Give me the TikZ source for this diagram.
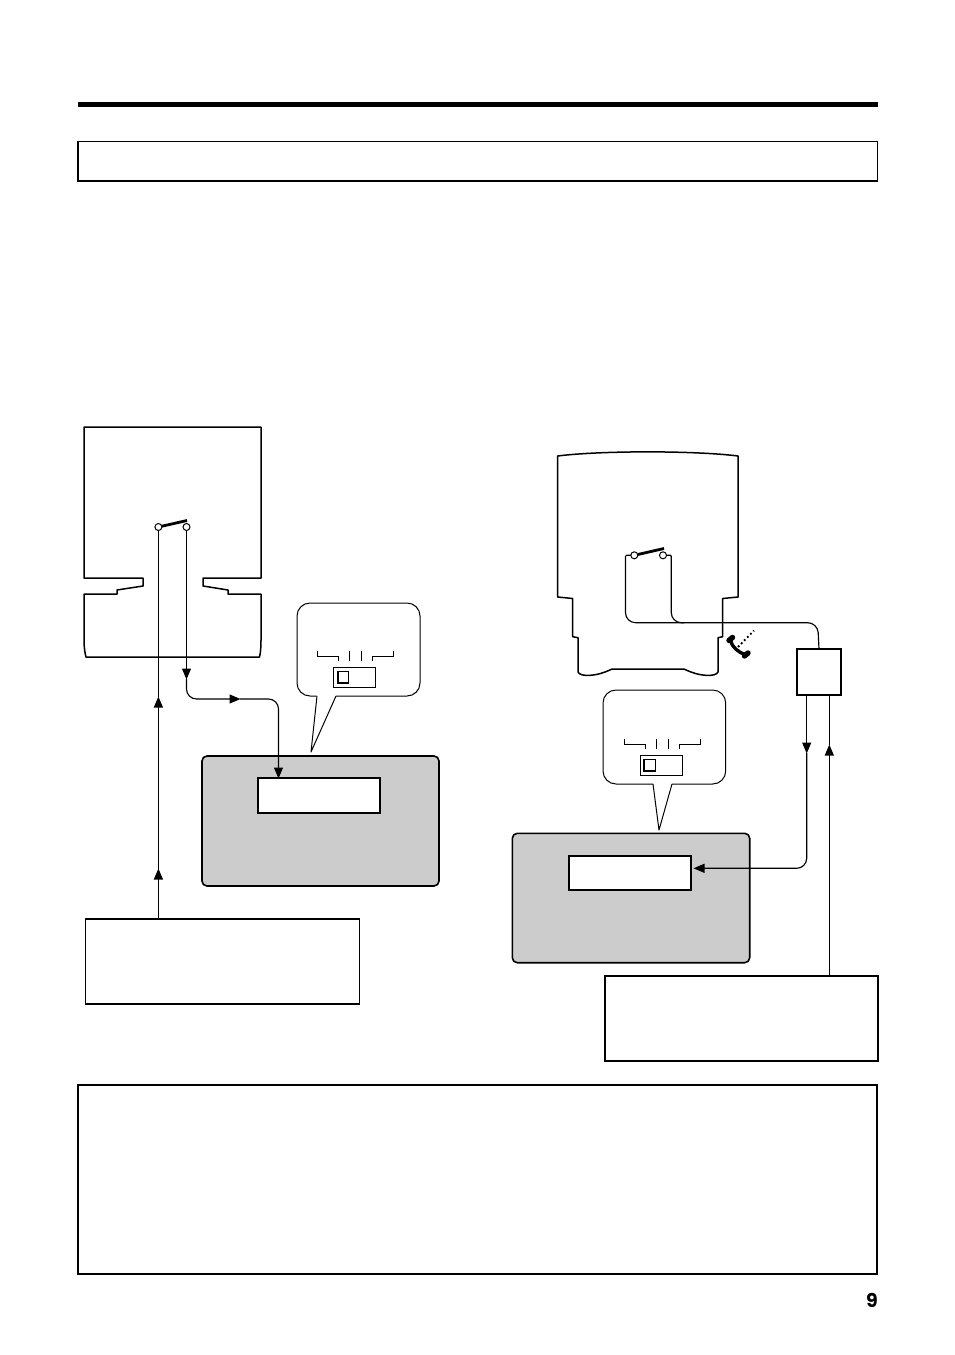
\documentclass[tikz,border=0pt]{standalone}
\usepackage{fontspec}
\setmainfont{Poppins}
\usetikzlibrary{arrows.meta}
\tikzset{
	outline/.style={line width=1.5pt,line join=round},
	wire/.style={line width=1.15pt},
	tipwire/.style={wire,-{Triangle[length=11pt,width=9pt]},shorten >=-0.5pt},
	contact/.style={circle,draw,fill=white,line width=1pt,minimum size=7pt,inner sep=0pt,outer sep=0pt},
	whitebox/.style={draw,fill=white,line width=2pt,inner sep=0pt,outer sep=0pt,anchor=north west},
	plainbox/.style={draw,fill=white,line width=1.5pt,inner sep=0pt,outer sep=0pt,anchor=north west},
	graybox/.style={draw,fill=black!20,line width=1.6pt,rounded corners=5pt,inner sep=0pt,outer sep=0pt,anchor=north west},
	bubble/.style={line width=1pt,line join=round,fill=white},
	thin tick/.style={line width=0.9pt}
}
\newcommand{\slidermark}[2]{% x and y of the bracket's top left end
	\draw[thin tick] (#1,#2)--(#1,#2+5)--(#1+21,#2+5)--(#1+21,#2+9.5);
	\draw[thin tick] (#1+32.5,#2)--(#1+32.5,#2+10);
	\draw[thin tick] (#1+44.5,#2)--(#1+44.5,#2+10);
	\draw[thin tick] (#1+55,#2+9.5)--(#1+55,#2+5)--(#1+76.5,#2+5)--(#1+76.5,#2);
	\draw[line width=1pt] (#1+16,#2+16.3) rectangle (#1+58.5,#2+36);
	\draw[line width=1pt] (#1+20.4,#2+20) rectangle (#1+31.4,#2+32);
	\draw[line width=1.9pt] (#1+20.4,#2+20)--(#1+20.4,#2+32)--(#1+31.4,#2+32);
}
\begin{document}
\begin{tikzpicture}[x=1pt,y=-1pt]
	\useasboundingbox (0,0) rectangle (954,1355);
	% page rule and heading frame
	\fill[black] (78,101.5) rectangle (878,106.5);
	\node[draw,line width=1.2pt,inner sep=0pt,outer sep=0pt,anchor=north west,minimum width=799.5pt,minimum height=39.5pt] (heading) at (78,141.4) {};

	% left unit
	\draw[outline] (84,427)--(261,427)--(261,578)--(203,578)--(203,586)--(228,590)--(228,594)--(261,594)--(261,640)
		.. controls (261,648) and (260.5,653) .. (259.5,657)--(86,657)
		.. controls (85,653) and (84,648) .. (84,640)--(84,594)--(117,594)--(117,590)--(143,586)--(143,578)--(84,578)--cycle;
	\node[graybox,minimum width=237pt,minimum height=130pt] (leftpanel) at (202,756) {};
	\node[whitebox,minimum width=122pt,minimum height=35pt] (leftdisplay) at (258,778) {};
	\draw[bubble,rounded corners=13pt] (317,696)--(297,696)--(297,603)--(420,603)--(420,696)--(336,696);
	\fill[white] (317,692)--(311,752)--(336,692)--cycle;
	\draw[bubble,fill=none] (317,696)--(311,752)--(336,696);
	\slidermark{317.3}{651}
	\node[plainbox,minimum width=274pt,minimum height=85pt] (leftnote) at (85.5,919) {};

	\coordinate (leftbend) at (186.5,699);
	\coordinate (leftdown) at (278.5,699);
	\coordinate (lefttipa) at (186.5,679);
	\coordinate (lefttipb) at (240,699);
	\coordinate (lefttipc) at (158.4,697);
	\coordinate (lefttipd) at (158.4,869);
	\node[contact] (lefta) at (158.4,527) {};
	\node[contact] (leftb) at (186.5,527) {};
	\draw[tipwire] (leftnote.north west-|lefttipd)--(lefttipd);
	\draw[tipwire] (lefttipd)--(lefttipc);
	\draw[wire] (lefttipc)--(lefta);
	\draw[tipwire] (leftb)--(lefttipa);
	\draw[tipwire,rounded corners=10pt] (lefttipa)--(leftbend)--(lefttipb);
	\draw[tipwire,rounded corners=10pt] (lefttipb)--(leftdown)--(leftdisplay.north west-|leftdown);
	\draw[line width=2.8pt] (lefta)--(187,520.5);

	% right unit
	\draw[outline] (557.7,456) .. controls (600,450.5) and (695,450.5) .. (738,456)--(738,597)--(722.7,598.5)--(722.7,636.7)--(718,637.7)--(718,672)
		.. controls (716,677) and (700,677) .. (684,669)--(612,669)
		.. controls (596,677) and (580,677) .. (578,672)--(578,637.7)--(572.7,636.7)--(572.7,598.5)--(557.7,597)--cycle;
	\node[graybox,minimum width=237.4pt,minimum height=129.4pt] (rightpanel) at (512.3,833.3) {};
	\node[whitebox,minimum width=122.6pt,minimum height=34pt] (rightdisplay) at (568.7,856) {};
	\draw[bubble,rounded corners=13pt] (653,784)--(603,784)--(603,690)--(725.7,690)--(725.7,784)--(672,784);
	\fill[white] (653,780)--(659,830)--(672,780)--cycle;
	\draw[bubble,fill=none] (653,784)--(659,830)--(672,784);
	\slidermark{624}{739.3}
	\node[plainbox,minimum width=273pt,minimum height=85pt] (rightnote) at (605,976) {};
	\node[draw,fill=white,line width=2pt,inner sep=0pt,outer sep=0pt,anchor=north west,minimum width=44.6pt,minimum height=46.3pt] (splitter) at (796.7,648.7) {};

	\coordinate (linelow) at (817.7,622.7);
	\coordinate (linebend) at (625.5,622.7);
	\coordinate (linejoin) at (684,622.7);
	\coordinate (righttipa) at (806.7,753);
	\coordinate (rightcorner) at (806.7,868.3);
	\coordinate (righttipb) at (829.3,745);
	\coordinate (righttipc) at (694,868.3);
	\node[contact] (righta) at (634.3,555.3) {};
	\node[contact] (rightb) at (663,555.3) {};
	\draw[wire,rounded corners=1pt] (righta.west)--(625.5,555.3)--(625.5,600)[rounded corners=10pt]--(linebend)--(linelow)--(splitter.north);
	\draw[wire,rounded corners=1pt] (rightb.east)--(671.3,555.3)--(671.3,600)[rounded corners=10pt]--(671.3,622.7)--(linejoin);
	\draw[tipwire] (splitter.south west-|righttipa)--(righttipa);
	\draw[tipwire,rounded corners=10pt] (righttipa)--(rightcorner)--(righttipc);
	\draw[tipwire] (rightnote.north west-|righttipb)--(righttipb);
	\draw[wire] (righttipb)--(splitter.south west-|righttipb);
	\draw[line width=2.8pt] (righta)--(664,548.5);

	% handset with its dotted line
	\draw[line width=3.4pt] (730.5,641) .. controls (732.5,647) and (738,652.5) .. (745.5,654.5);
	\draw[line width=5.4pt,line cap=round] (729,640.5)--(732.5,637.5);
	\draw[line width=5.4pt,line cap=round] (744.5,656)--(748,653);
	\draw[line width=1.9pt,dash pattern=on 1.8pt off 2.6pt] (738,647)--(754,630.5);

	% note frame and page number
	\node[draw,line width=2.2pt,inner sep=0pt,outer sep=0pt,anchor=north west,minimum width=799pt,minimum height=189pt] (noteframe) at (78,1085) {};
	\node[font=\bfseries,scale=1.9,inner sep=0pt] (pagenum) at (872,1300.5) {9};
\end{tikzpicture}
\end{document}
